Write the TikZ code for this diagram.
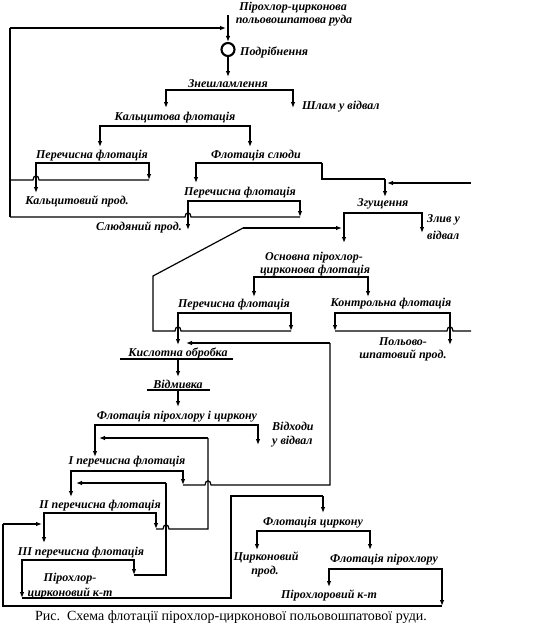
\documentclass[tikz,border=0pt]{standalone}
\usepackage{fontspec}
\setmainfont{Liberation Serif}
\usetikzlibrary{arrows.meta}
\begin{document}
\begin{tikzpicture}[x=1pt,y=-1pt,
  thk/.style={line width=2.1pt},
  thn/.style={line width=1.2pt},
  tip/.style={-{Latex[length=6pt,width=4.6pt]}},
  both/.style={{Latex[length=6pt,width=4.6pt]}-{Latex[length=6pt,width=4.6pt]}},
  lbl/.style={font=\fontsize{12}{13}\selectfont\bfseries\itshape, inner sep=0pt},
  captxt/.style={font=\fontsize{14}{16}\selectfont, inner sep=0pt}]
\useasboundingbox[fill=white] (0,0) rectangle (544,624);

% ---------- labels ----------
\node[lbl] (ore1) at (293,8) {Пірохлор-цирконова};
\node[lbl] (ore2) at (294,21) {польовошпатова руда};
\node[circle, draw, thk, minimum size=13pt, inner sep=0pt] (crush) at (228,49.5) {};
\node[lbl, anchor=west] (crushT) at (240,52) {Подрібнення};
\node[lbl] (desl) at (228,84) {Знешламлення};
\node[lbl, anchor=west] (slime) at (302,107) {Шлам у відвал};
\node[lbl] (calcF) at (175,118) {Кальцитова флотація};
\node[lbl] (calcC) at (92,156) {Перечисна флотація};
\node[lbl] (micaF) at (256,156) {Флотація слюди};
\node[lbl] (calcP) at (77,201) {Кальцитовий прод.};
\node[lbl] (micaC) at (240,193) {Перечисна флотація};
\node[lbl] (micaP) at (139,227) {Слюдяний прод.};
\node[lbl] (thickT) at (383,204) {Згущення};
\node[lbl, anchor=west] (over1) at (427,220) {Злив у};
\node[lbl, anchor=west] (over2) at (427,235) {відвал};
\node[lbl] (rough1) at (314,258) {Основна пірохлор-};
\node[lbl] (rough2) at (315,271) {цирконова флотація};
\node[lbl] (pyC) at (234,305) {Перечисна флотація};
\node[lbl] (scav) at (391,304) {Контрольна флотація};
\node[lbl] (fsp1) at (403,342) {Польово-};
\node[lbl] (fsp2) at (403,355) {шпатовий прод.};
\node[lbl] (acid) at (178,353) {Кислотна обробка};
\node[lbl] (wash) at (178,384) {Відмивка};
\node[lbl] (pzF) at (177,417) {Флотація пірохлору і циркону};
\node[lbl, anchor=west] (waste1) at (272,426) {Відходи};
\node[lbl, anchor=west] (waste2) at (272,442) {у відвал};
\node[lbl] (cl1) at (127,462) {I перечисна флотація};
\node[lbl] (cl2) at (100,506) {II перечисна флотація};
\node[lbl] (cl3) at (81,553) {III перечисна флотація};
\node[lbl] (pzc1) at (70,579) {Пірохлор-};
\node[lbl] (pzc2) at (70,593) {цирконовий к-т};
\node[lbl] (zrF) at (313,523) {Флотація циркону};
\node[lbl] (zrP1) at (266,557) {Цирконовий};
\node[lbl] (zrP2) at (265,572) {прод.};
\node[lbl] (pyF) at (384,560) {Флотація пірохлору};
\node[lbl] (pyP) at (329,595) {Пірохлоровий к-т};
\node[captxt] (caption) at (231,617) {Рис.\ \ Схема флотації пірохлор-цирконової польовошпатової руди.};

% ---------- coordinates ----------
\coordinate (feedTop) at (228,15);
\coordinate (lpTop) at (10,28);
\coordinate (feedIn) at (226,28);
\coordinate (lpMid) at (10,180);
\coordinate (lpBot) at (10,217);
\coordinate (deslIn) at (228,77);
% feed and crushing
\draw[thk,tip] (feedTop) -- (crush.north);
\draw[thn] (lpBot) -- (lpTop);
\draw[thk,tip] (lpTop) -- (feedIn);
\draw[thk,tip] (crush.south) -- (deslIn);

% desliming
\coordinate (d1) at (166,90); \coordinate (d2) at (293,90);
\coordinate (d1e) at (166,108); \coordinate (d2e) at (293,108);
\draw[thk,both] (d1e) -- (d1) -- (d2) -- (d2e);

% calcite flotation
\coordinate (k1) at (100,126); \coordinate (k2) at (250,126);
\coordinate (k1e) at (100,147); \coordinate (k2e) at (250,147);
\draw[thk,both] (k1e) -- (k1) -- (k2) -- (k2e);

% calcite cleaner
\coordinate (c1) at (36,163); \coordinate (c2) at (149,163);
\coordinate (c1e) at (36,193); \coordinate (c2e) at (149,180);
\draw[thk,both] (c1e) -- (c1) -- (c2) -- (c2e);
\draw[thn] (c2e) -- (39,180) .. controls (39,174.5) and (33,174.5) .. (33,180) -- (lpMid);

% mica flotation
\coordinate (m1) at (196,163); \coordinate (m2) at (322,163);
\coordinate (m1e) at (196,183); \coordinate (m2c) at (322,179);
\coordinate (thkIn) at (385,179); \coordinate (thkInE) at (385,197);
\draw[thk,tip] (m2) -- (m1) -- (m1e);
\draw[thn] (m2) -- (m2c) -- (thkIn);
\draw[thk,tip] (thkIn) -- (thkInE);

% mica cleaner
\coordinate (n1) at (188,201); \coordinate (n2) at (300,201);
\coordinate (n1e) at (188,230); \coordinate (n2e) at (300,217);
\draw[thk,both] (n1e) -- (n1) -- (n2) -- (n2e);
\draw[thn] (n2e) -- (191,217) .. controls (191,211.5) and (185,211.5) .. (185,217) -- (lpBot);

% right incoming line to thickening
\coordinate (rIn) at (471,183); \coordinate (rInE) at (387,183);
\draw[thk,tip] (rIn) -- (rInE);

% thickening
\coordinate (t1) at (344,213); \coordinate (t2) at (422,213);
\coordinate (t1e) at (344,243); \coordinate (t2e) at (422,233);
\draw[thk,both] (t1e) -- (t1) -- (t2) -- (t2e);

% rougher
\coordinate (r1) at (254,277); \coordinate (r2) at (368,277);
\coordinate (r1e) at (254,297); \coordinate (r2e) at (368,297);
\draw[thk,both] (r1e) -- (r1) -- (r2) -- (r2e);

% pyrochlore cleaner
\coordinate (p1) at (178,313); \coordinate (p2) at (291,313);
\coordinate (p1e) at (178,345); \coordinate (p2e) at (291,331);
\draw[thk,both] (p1e) -- (p1) -- (p2) -- (p2e);
\coordinate (rcA) at (153,331); \coordinate (rcB) at (153,276);
\coordinate (rcC) at (243,228); \coordinate (rcD) at (342,228);
\draw[thn] (p2e) -- (181,331) .. controls (181,325.5) and (175,325.5) .. (175,331) -- (rcA) -- (rcB) -- (rcC);
\draw[thk,tip] (rcC) -- (rcD);

% scavenger
\coordinate (s1) at (335,313); \coordinate (s2) at (450,313);
\coordinate (s1e) at (335,331); \coordinate (s2e) at (450,345);
\coordinate (sEnd) at (471,331);
\draw[thk,both] (s1e) -- (s1) -- (s2) -- (s2e);
\draw[thn] (s1e) -- (447,331) .. controls (447,325.5) and (453,325.5) .. (453,331) -- (sEnd);

% acid treatment, washing
\coordinate (a1) at (120,359); \coordinate (a2) at (233,359);
\coordinate (aM) at (178,359); \coordinate (aE) at (178,377);
\draw[thk] (a1) -- (a2);
\draw[thk,tip] (aM) -- (aE);
\coordinate (w1) at (147,390); \coordinate (w2) at (210,390);
\coordinate (wM) at (178,390); \coordinate (wE) at (178,407);
\draw[thk] (w1) -- (w2);
\draw[thk,tip] (wM) -- (wE);

% return I-cleaner tails to acid feed
\coordinate (u1) at (183,485); \coordinate (u2) at (330,485);
\coordinate (u3) at (330,343); \coordinate (u4) at (186,343);
\draw[thn] (u1) -- (205,485) .. controls (205,479.5) and (211,479.5) .. (211,485) -- (u2) -- (u3);
\draw[thk,tip] (u3) -- (u4);

% pyrochlore-zircon flotation
\coordinate (f1) at (95,425); \coordinate (f2) at (258,425);
\coordinate (f1e) at (95,457); \coordinate (f2e) at (258,445);
\draw[thk,both] (f1e) -- (f1) -- (f2) -- (f2e);

% I cleaner
\coordinate (i1) at (71,471); \coordinate (i2) at (183,471);
\coordinate (i1e) at (71,497);
\draw[thk,both] (i1e) -- (i1) -- (i2) -- (u1);

% II cleaner
\coordinate (j1) at (44,513); \coordinate (j2) at (156,513);
\coordinate (j1e) at (44,543); \coordinate (j2e) at (156,529);
\draw[thk,both] (j1e) -- (j1) -- (j2) -- (j2e);
\coordinate (v1) at (208,529); \coordinate (v2) at (208,438); \coordinate (v3) at (99,438);
\draw[thn] (j2e) -- (163,529) .. controls (163,523.5) and (169,523.5) .. (169,529) -- (v1) -- (v2);
\draw[thk,tip] (v2) -- (v3);

% III cleaner
\coordinate (h1) at (22,560); \coordinate (h2) at (134,560);
\coordinate (h1e) at (22,598); \coordinate (h2e) at (134,575);
\draw[thk,both] (h1e) -- (h1) -- (h2) -- (h2e);
\coordinate (x1) at (166,575); \coordinate (x2) at (166,483); \coordinate (x3) at (76,483);
\draw[thn] (h2e) -- (x1) -- (x2);
\draw[thk,tip] (x2) -- (x3);

% concentrate to zircon flotation
\coordinate (y1) at (231,598); \coordinate (y2) at (231,496);
\coordinate (y3) at (323,496); \coordinate (y4) at (323,513);
\draw[thn] (h1e) -- (y1) -- (y2) -- (y3);
\draw[thk,tip] (y3) -- (y4);

% zircon flotation
\coordinate (z1) at (257,531); \coordinate (z2) at (370,531);
\coordinate (z1e) at (257,550); \coordinate (z2e) at (370,550);
\draw[thk,both] (z1e) -- (z1) -- (z2) -- (z2e);

% pyrochlore flotation
\coordinate (q1) at (329,569); \coordinate (q2) at (442,569);
\coordinate (q1e) at (329,587); \coordinate (q2e) at (442,606);
\draw[thk,both] (q1e) -- (q1) -- (q2) -- (q2e);
\coordinate (b1) at (3,606); \coordinate (b2) at (3,524); \coordinate (b3) at (42,524);
\draw[thn] (q2e) -- (b1) -- (b2);
\draw[thk,tip] (b2) -- (b3);
\end{tikzpicture}
\end{document}
